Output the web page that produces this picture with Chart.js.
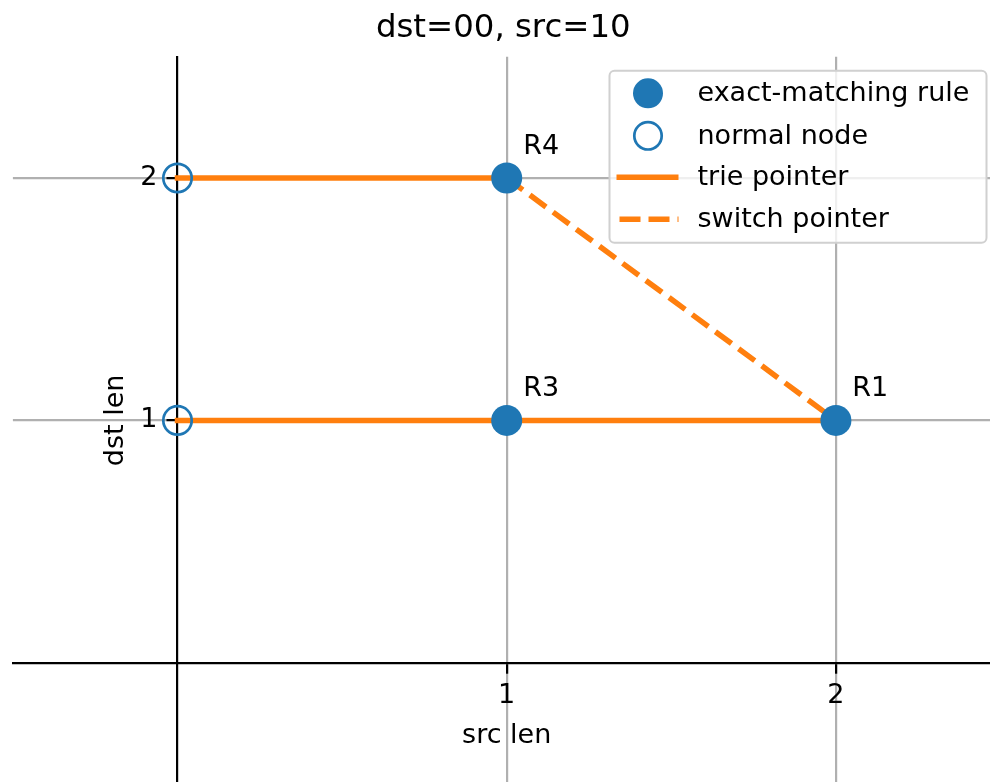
<!DOCTYPE html>
<html>
<head>
<meta charset="utf-8">
<script src="https://cdn.jsdelivr.net/npm/chart.js@4"></script>
<style>
  html, body { margin: 0; padding: 0; background: #fff; overflow: hidden; }
  #wrap { position: absolute; left: -4px; top: 0; width: 1024px; height: 812px; }
</style>
</head>
<body>
<div id="wrap"><canvas id="chart"></canvas></div>
<script>
const FONT = 'DejaVu Sans';
const BLUE = '#1f77b4';
const ORANGE = '#ff7f0e';

// nodes
const ruleX = [1, 1, 2];
const ruleY = [2, 1, 1];
const ruleNames = ['R4', 'R3', 'R1'];
const normalX = [0, 0];
const normalY = [2, 1];

// pointers, as [x, y] pairs from -> to
const trieFrom = [[0, 2], [0, 1], [1, 1]];
const trieTo = [[1, 2], [1, 1], [2, 1]];
const switchFrom = [[1, 2]];
const switchTo = [[2, 1]];

// text next to the rule nodes (data coords)
const noteX = [1.05, 1.05, 2.05];
const noteY = [2.1, 1.1, 1.1];

const xTicks = [1, 2];
const yTicks = [1, 2];
const legendLabels = ['exact-matching rule', 'normal node', 'trie pointer', 'switch pointer'];

const datasets = [];
datasets.push({
  label: legendLabels[0],
  data: ruleX.map((x, i) => ({ x: x, y: ruleY[i] })),
  pointRadius: 15.5,
  pointHoverRadius: 15.5,
  backgroundColor: BLUE,
  borderWidth: 0,
  showLine: false,
});
datasets.push({
  label: legendLabels[1],
  data: normalX.map((x, i) => ({ x: x, y: normalY[i] })),
  pointRadius: 14.2,
  pointHoverRadius: 14.2,
  backgroundColor: 'rgba(0,0,0,0)',
  borderColor: BLUE,
  borderWidth: 2.7,
  showLine: false,
});
trieFrom.forEach((p, i) => {
  datasets.push({
    label: legendLabels[2],
    data: [{ x: p[0], y: p[1] }, { x: trieTo[i][0], y: trieTo[i][1] }],
    showLine: true,
    borderColor: ORANGE,
    borderWidth: 5.5,
    borderCapStyle: 'square',
    pointRadius: 0,
  });
});
switchFrom.forEach((p, i) => {
  datasets.push({
    label: legendLabels[3],
    data: [{ x: p[0], y: p[1] }, { x: switchTo[i][0], y: switchTo[i][1] }],
    showLine: true,
    borderColor: ORANGE,
    borderWidth: 5.5,
    borderDash: [20, 8.8],
    pointRadius: 0,
  });
});

const extras = {
  id: 'extras',
  afterDraw(chart) {
    const { ctx, chartArea, scales } = chart;
    const xs = scales.x, ys = scales.y;
    ctx.save();
    ctx.fillStyle = '#000';
    ctx.font = '27px "' + FONT + '"';

    // y tick labels (chart.js puts them on the spine when the axis sits at x=0)
    ctx.textAlign = 'right';
    ctx.textBaseline = 'middle';
    yTicks.forEach(v => {
      ctx.fillText(String(v), xs.getPixelForValue(0) - 20, ys.getPixelForValue(v));
    });

    // node names
    ctx.textAlign = 'left';
    ctx.textBaseline = 'alphabetic';
    ruleNames.forEach((n, i) => {
      ctx.fillText(n, xs.getPixelForValue(noteX[i]), ys.getPixelForValue(noteY[i]));
    });

    // axis titles
    ctx.textAlign = 'center';
    ctx.fillText('src len', (chartArea.left + chartArea.right) / 2, ys.getPixelForValue(0) + 80);
    ctx.save();
    ctx.translate(xs.getPixelForValue(0) - 55, (chartArea.top + chartArea.bottom) / 2);
    ctx.rotate(-Math.PI / 2);
    ctx.fillText('dst len', 0, 0);
    ctx.restore();

    // legend box, upper right
    const w = 377, h = 172;
    const bx = chartArea.right - 14 - w, by = chartArea.top + 14;
    ctx.beginPath();
    ctx.roundRect(bx, by, w, h, 5);
    ctx.fillStyle = 'rgba(255,255,255,0.8)';
    ctx.fill();
    ctx.strokeStyle = '#d0d0d0';
    ctx.lineWidth = 2;
    ctx.stroke();

    const hx = bx + 38.5;
    const rows = [by + 22.5, by + 65, by + 106.5, by + 148.5];
    // filled
    ctx.beginPath();
    ctx.arc(hx, rows[0], 15, 0, Math.PI * 2);
    ctx.fillStyle = BLUE;
    ctx.fill();
    // open
    ctx.beginPath();
    ctx.arc(hx, rows[1], 13.7, 0, Math.PI * 2);
    ctx.strokeStyle = BLUE;
    ctx.lineWidth = 2.7;
    ctx.stroke();
    // solid
    ctx.strokeStyle = ORANGE;
    ctx.lineWidth = 5.5;
    ctx.lineCap = 'butt';
    ctx.beginPath();
    ctx.moveTo(bx + 7, rows[2]);
    ctx.lineTo(bx + 69, rows[2]);
    ctx.stroke();
    // dashed
    ctx.setLineDash([21, 8]);
    ctx.beginPath();
    ctx.moveTo(bx + 10, rows[3]);
    ctx.lineTo(bx + 69, rows[3]);
    ctx.stroke();
    ctx.setLineDash([]);

    ctx.fillStyle = '#000';
    ctx.textAlign = 'left';
    ctx.textBaseline = 'middle';
    legendLabels.forEach((t, i) => ctx.fillText(t, bx + 88, rows[i] + 1));
    ctx.restore();
  }
};

new Chart(document.getElementById('chart'), {
  type: 'scatter',
  data: { datasets: datasets },
  plugins: [extras],
  options: {
    responsive: true,
    maintainAspectRatio: false,
    animation: false,
    layout: { padding: { left: 10, right: 19.5, top: 0, bottom: 28 } },
    plugins: {
      legend: { display: false },
      tooltip: { enabled: false },
      title: {
        display: true,
        text: 'dst=00, src=10',
        color: '#000',
        font: { family: FONT, size: 32.4, weight: 'normal' },
        padding: { top: 9, bottom: 8.9 },
      },
    },
    scales: {
      x: {
        type: 'linear',
        min: -0.5,
        max: 2.5,
        position: { y: 0 },
        afterBuildTicks: (axis) => { axis.ticks = xTicks.map(v => ({ value: v })); },
        grid: { color: '#b0b0b0', lineWidth: 2.2, tickColor: '#000', tickLength: 9.5, tickWidth: 2.2 },
        border: { color: '#000', width: 2.2 },
        ticks: { color: '#000', font: { family: FONT, size: 27 }, padding: 7, maxRotation: 0, autoSkip: false },
      },
      y: {
        type: 'linear',
        min: -0.5,
        max: 2.5,
        position: { x: 0 },
        afterBuildTicks: (axis) => { axis.ticks = yTicks.map(v => ({ value: v })); },
        grid: { color: '#b0b0b0', lineWidth: 2.2, tickColor: '#000', tickLength: 9.5, tickWidth: 2.2 },
        border: { color: '#000', width: 2.2 },
        ticks: { display: false },
      },
    },
  },
});
</script>
</body>
</html>
